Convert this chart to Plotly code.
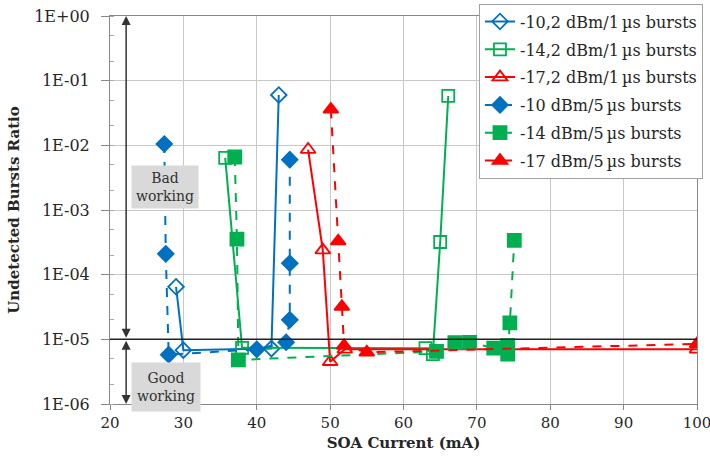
import plotly.graph_objects as go

# ---------------- data ----------------
names = ["-10,2 dBm/1\u2009µs bursts", "-14,2 dBm/1\u2009µs bursts", "-17,2 dBm/1\u2009µs bursts",
         "-10 dBm/5\u2009µs bursts", "-14 dBm/5\u2009µs bursts", "-17 dBm/5\u2009µs bursts"]

b1_x = [29, 30, 42, 43]
b1_y = [6.5e-5, 6.8e-6, 7.2e-6, 6.0e-2]

g1_x = [35.7, 38, 63, 64, 65, 66.1]
g1_y = [6.4e-3, 7.4e-6, 7.3e-6, 5.9e-6, 3.2e-4, 5.8e-2]

r1_x = [47, 49, 50, 52, 100]
r1_y = [8.6e-3, 2.4e-4, 4.5e-6, 7.0e-6, 7.0e-6]

b5_x = [27.4, 27.6, 28, 40, 44, 44.5, 44.5, 44.5]
b5_y = [1.05e-2, 2.1e-4, 5.8e-6, 7.0e-6, 9.0e-6, 2.0e-5, 1.5e-4, 6.0e-3]

g5_x = [37, 37.3, 37.5, 64.5, 67, 69, 72.3, 74.2, 74.2, 74.5, 75.1]
g5_y = [6.6e-3, 3.55e-4, 4.8e-6, 6.5e-6, 8.9e-6, 9.0e-6, 7.3e-6, 8.0e-6, 5.9e-6, 1.8e-5, 3.4e-4]

r5_x = [50.1, 51.1, 51.6, 51.9, 55, 100]
r5_y = [3.6e-2, 3.3e-4, 3.2e-5, 8.0e-6, 6.3e-6, 8.5e-6]

y_tickvals = [1e0, 1e-1, 1e-2, 1e-3, 1e-4, 1e-5, 1e-6]
y_ticktext = ["1E+00", "1E-01", "1E-02", "1E-03", "1E-04", "1E-05", "1E-06"]
x_ticks = [20, 30, 40, 50, 60, 70, 80, 90, 100]

threshold = 1e-5

# ---------------- style ----------------
BLUE = "#0070C0"
GREEN = "#00B050"
RED = "#FF0000"
FONT = "DejaVu Serif"
TXT = "#262626"

series = [
    (b1_x, b1_y, names[0], BLUE, "diamond-open", 12, "solid"),
    (g1_x, g1_y, names[1], GREEN, "square-open", 12, "solid"),
    (r1_x, r1_y, names[2], RED, "triangle-up-open", 13, "solid"),
    (b5_x, b5_y, names[3], BLUE, "diamond", 12, "dash"),
    (g5_x, g5_y, names[4], GREEN, "square", 13, "dash"),
    (r5_x, r5_y, names[5], RED, "triangle-up", 13, "dash"),
]

fig = go.Figure()
for i, (xs, ys, nm, col, sym, sz, dash) in enumerate(series):
    fig.add_trace(go.Scatter(
        x=xs, y=ys, name=nm, mode="lines+markers", legendgroup=f"g{i}",
        line=dict(color=col, width=2, dash=dash),
        marker=dict(symbol=sym, size=sz, color=col, line=dict(color=col, width=1.8)),
    ))

# threshold line
fig.add_shape(type="line", xref="paper", yref="y", x0=0, x1=1,
              y0=threshold, y1=threshold, line=dict(color="#222222", width=1.5))

# arrows (log axis: annotation coords in log10 units)
fig.add_annotation(x=22.2, y=0, ax=22.2, ay=-5, xref="x", yref="y", axref="x", ayref="y",
                   showarrow=True, arrowhead=2, arrowside="end+start", arrowsize=1.2,
                   arrowwidth=1.5, arrowcolor="#333333", text="")
fig.add_annotation(x=22.2, y=-6, ax=22.2, ay=-5, xref="x", yref="y", axref="x", ayref="y",
                   showarrow=True, arrowhead=2, arrowside="end+start", arrowsize=1.2,
                   arrowwidth=1.5, arrowcolor="#333333", text="")

fig.add_annotation(x=27.5, y=-2.64, xref="x", yref="y", text="Bad<br>working",
                   showarrow=False, bgcolor="#D9D9D9", width=64, height=40,
                   font=dict(family=FONT, size=14, color="#333333"))
fig.add_annotation(x=27.6, y=-5.74, xref="x", yref="y", text="Good<br>working",
                   showarrow=False, bgcolor="#D9D9D9", width=66, height=46,
                   font=dict(family=FONT, size=14, color="#333333"))

fig.update_layout(
    width=710, height=465,
    margin=dict(l=110, r=13, t=16, b=61, autoexpand=False),
    paper_bgcolor="white", plot_bgcolor="white",
    font=dict(family=FONT, size=14, color=TXT),
    legend=dict(x=1.0102, xanchor="right", y=1.032, yanchor="top",
                bgcolor="white", bordercolor="#A0A0A0", borderwidth=1,
                font=dict(family=FONT, size=16, color=TXT),
                traceorder="grouped", tracegroupgap=4),
    xaxis=dict(range=[20, 100], tickvals=x_ticks, showgrid=True, gridcolor="#C8C8C8",
               gridwidth=1, showline=True, linecolor="#888888", mirror=True,
               ticks="outside", ticklen=5, tickcolor="#888888", zeroline=False,
               ticklabeloverflow="allow",
               tickfont=dict(family=FONT, size=15, color=TXT),
               title=dict(text="<b>SOA Current (mA)</b>", font=dict(family=FONT, size=15, color=TXT),
                          standoff=6)),
    yaxis=dict(type="log", range=[-6, 0], tickvals=y_tickvals, ticktext=y_ticktext,
               showgrid=True, gridcolor="#C8C8C8", gridwidth=1, showline=True,
               linecolor="#888888", mirror=True, ticks="outside", ticklen=8, tickcolor="#888888",
               ticklabelstandoff=8,
               tickfont=dict(family=FONT, size=16, color=TXT),
               minor=dict(ticks="inside", ticklen=4, tickcolor="#AAAAAA", showgrid=False),
               title=dict(text="<b>Undetected Bursts Ratio</b>", font=dict(family=FONT, size=15, color=TXT),
                          standoff=10)),
)

fig.write_html("out.html")
